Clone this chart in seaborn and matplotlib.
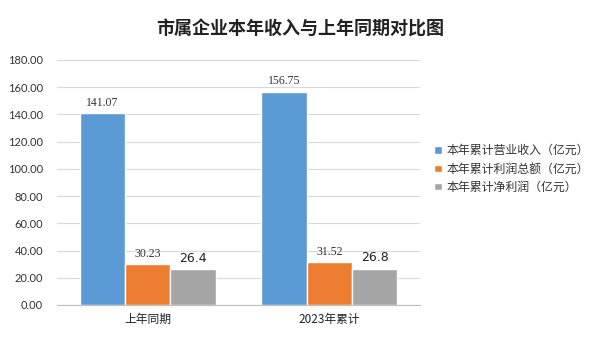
import matplotlib
matplotlib.use("Agg")
import matplotlib.pyplot as plt
import seaborn as sns
import pandas as pd

categories = ["上年同期", "2023年累计"]
series = ["本年累计营业收入（亿元）", "本年累计利润总额（亿元）", "本年累计净利润（亿元）"]
revenue = [141.07, 156.75]
profit = [30.23, 31.52]
net_profit = [26.4, 26.8]
label_texts = [["141.07", "156.75"], ["30.23", "31.52"], ["26.4", "26.8"]]
yticks = [0, 20, 40, 60, 80, 100, 120, 140, 160, 180]
colors = ["#5B9BD5", "#ED7D31", "#A5A5A5"]

rows = []
for s, vals in zip(series, [revenue, profit, net_profit]):
    for c, v in zip(categories, vals):
        rows.append({"cat": c, "series": s, "value": v})
df = pd.DataFrame(rows)

sns.set_style("white")
plt.rcParams['font.family'] = ['Noto Sans CJK SC', 'DejaVu Sans']

fig = plt.figure(figsize=(6, 3.37), dpi=100)
ax = fig.add_axes([0.095, 0.095, 0.605, 0.727])
sns.barplot(data=df, x="cat", y="value", hue="series", order=categories,
            hue_order=series, palette=colors, width=0.75, saturation=1,
            ax=ax, legend=True)

ax.set_ylim(0, 180)
ax.set_xlim(-0.5, 1.5)
ax.set_yticks(yticks)
ax.set_yticklabels([f"{t:.2f}" for t in yticks], family=["Lato", "DejaVu Sans"], fontsize=8, color="#333333")
ax.yaxis.grid(True, color="#d9d9d9", linewidth=0.8)
ax.set_axisbelow(True)
for sp in ["top", "right", "left"]:
    ax.spines[sp].set_visible(False)
ax.spines["bottom"].set_color("#bfbfbf")
ax.spines["bottom"].set_linewidth(0.8)
ax.tick_params(axis="y", length=0, pad=10)
ax.set_xticks([0, 1])
ax.set_xticklabels(categories, fontsize=8.5, color="#222222")
ax.tick_params(axis="x", length=0, pad=6)
ax.set_xticks([-0.5, 0.5, 1.5], minor=True)
ax.tick_params(axis="x", which="minor", length=5, color="#bfbfbf", width=0.8)
ax.set_xlabel("")
ax.set_ylabel("")

for i, cont in enumerate(ax.containers):
    if i < 2:
        ax.bar_label(cont, labels=label_texts[i], padding=3, fontsize=8.5,
                     family=["Liberation Serif"], color="#333333")
    else:
        ax.bar_label(cont, labels=label_texts[i], padding=3, fontsize=9,
                     family=["DejaVu Sans"], color="#222222")

leg = ax.legend(loc="center left", bbox_to_anchor=(1.01, 0.555), frameon=False,
                fontsize=8.6, handlelength=0.6, handleheight=0.6, handletextpad=0.4,
                labelspacing=0.45)
for t in leg.get_texts():
    t.set_color("#333333")

fig.text(0.5, 0.915, "市属企业本年收入与上年同期对比图", ha="center", va="center",
         fontsize=13, fontweight="bold", color="#222222")

fig.savefig("out.png", dpi=100)
